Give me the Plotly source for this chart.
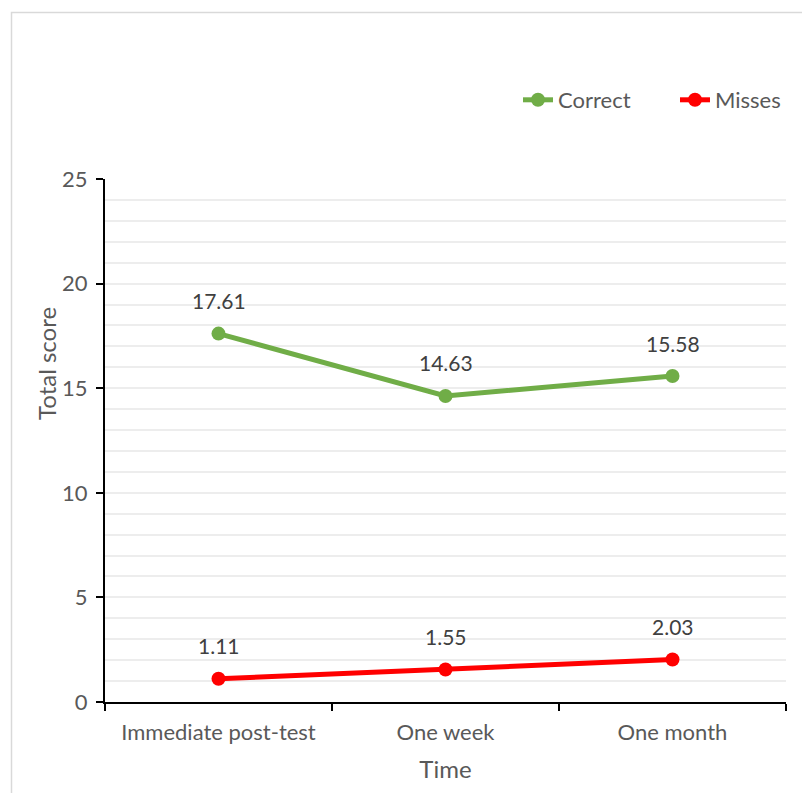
import plotly.graph_objects as go

categories = ["Immediate post-test", "One week", "One month"]
correct = [17.61, 14.63, 15.58]
misses = [1.11, 1.55, 2.03]
y_ticks = [0, 5, 10, 15, 20, 25]

# page has an 8px body margin, so the figure is drawn 8px smaller and offset
W, H = 802, 785
L, R, T, B = 97, 24, 171, 91
pw, ph = W - L - R, H - T - B
FONT = "Lato, 'Open Sans', sans-serif"
TXT = "#595959"

fig = go.Figure()
fig.add_trace(go.Scatter(x=categories, y=correct, name="Correct", mode="lines+markers",
                         line=dict(color="#70AD47", width=5),
                         marker=dict(size=14, color="#70AD47"), legend="legend"))
fig.add_trace(go.Scatter(x=categories, y=misses, name="Misses", mode="lines+markers",
                         line=dict(color="#FF0000", width=5),
                         marker=dict(size=14, color="#FF0000"), legend="legend2"))

annotations = []
for series in (correct, misses):
    for c, v in zip(categories, series):
        annotations.append(dict(x=c, y=v, text=f"{v:.2f}", showarrow=False, xref="x", yref="y",
                                yshift=33, font=dict(size=21, color="#404040", family=FONT)))
annotations.append(dict(x=(38 - L) / pw, y=1 - (356 - T) / ph, xref="paper", yref="paper",
                        xanchor="center", yanchor="middle",
                        text="Total score", textangle=-90, showarrow=False,
                        font=dict(size=24, color=TXT, family=FONT)))

leg_y = 1 - (92 - T) / ph
leg_common = dict(orientation="h", xanchor="right", y=leg_y, yanchor="middle",
                  font=dict(size=22, color=TXT), itemwidth=30, bgcolor="rgba(0,0,0,0)")

fig.update_layout(
    width=W, height=H,
    margin=dict(l=L, r=R, t=T, b=B),
    paper_bgcolor="white", plot_bgcolor="white",
    font=dict(family=FONT, size=22, color=TXT),
    showlegend=True,
    legend=dict(x=(628 - L) / pw, **leg_common),
    legend2=dict(x=1.0, **leg_common),
    annotations=annotations,
    shapes=[dict(type="rect", xref="paper", yref="paper",
                 x0=(3.5 - L) / pw, x1=(W + 5 - L) / pw,
                 y0=1 - (H + 5 - T) / ph, y1=1 - (4.5 - T) / ph,
                 line=dict(color="#D9D9D9", width=1.5), layer="below")],
)
fig.update_xaxes(type="category", range=[-0.5, 2.5], showline=True, linecolor="black", linewidth=2,
                 ticks="outside", tickson="boundaries", ticklen=7, tickcolor="black", tickwidth=2,
                 showgrid=False, tickfont=dict(size=22, color=TXT), ticklabelstandoff=10,
                 title=dict(text="Time", font=dict(size=24, color=TXT), standoff=17))
fig.update_yaxes(range=[0, 25], tickvals=y_ticks, showline=True, linecolor="black", linewidth=2,
                 ticks="outside", ticklen=7, tickcolor="black", tickwidth=2,
                 showgrid=True, gridcolor="#EDEDED", gridwidth=1.5, zeroline=False,
                 minor=dict(dtick=1, showgrid=True, gridcolor="#EDEDED", gridwidth=1.5),
                 tickfont=dict(size=22, color=TXT), ticklabelstandoff=4)

fig.write_html("out.html")
